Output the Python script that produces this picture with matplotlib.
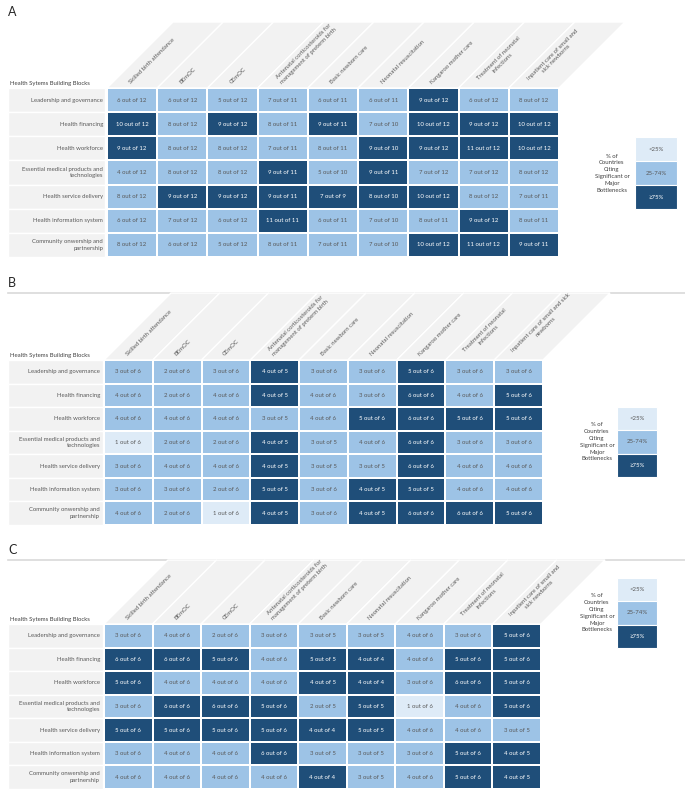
import numpy as np
import matplotlib
matplotlib.use("Agg")
import matplotlib.pyplot as plt
from matplotlib.colors import ListedColormap, BoundaryNorm
from matplotlib.patches import Polygon, Rectangle

plt.rcParams["font.family"] = ["Lato", "DejaVu Sans"]

# ---- data -------------------------------------------------------------
row_labels = [
    "Leadership and governance",
    "Health financing",
    "Health workforce",
    "Essential medical products and\ntechnologies",
    "Health service delivery",
    "Health information system",
    "Community onwership and\npartnership",
]

cols_a = [
    "Skilled birth attendance", "BEmOC", "CEmOC",
    "Antenatal corticosteroids for\nmanagement of preterm birth",
    "Basic newborn care", "Neonatal resuscitation", "Kangaroo mother care",
    "Treatment of neonatal\ninfections", "Inpatient care of small and\nsick newborns",
]
cols_b = cols_a[:8] + ["Inpatient care of small and sick\nnewborns"]
cols_c = cols_a

a_num = [[6, 6, 5, 7, 6, 6, 9, 6, 8],
         [10, 8, 9, 8, 9, 7, 10, 9, 10],
         [9, 8, 8, 7, 8, 9, 9, 11, 10],
         [4, 8, 8, 9, 5, 9, 7, 7, 8],
         [8, 9, 9, 9, 7, 8, 10, 8, 7],
         [6, 7, 6, 11, 6, 7, 8, 9, 8],
         [8, 6, 5, 8, 7, 7, 10, 11, 9]]
a_den = [[12, 12, 12, 11, 11, 11, 12, 12, 12],
         [12, 12, 12, 11, 11, 10, 12, 12, 12],
         [12, 12, 12, 11, 11, 10, 12, 12, 12],
         [12, 12, 12, 11, 10, 11, 12, 12, 12],
         [12, 12, 12, 11, 9, 10, 12, 12, 11],
         [12, 12, 12, 11, 11, 10, 11, 12, 11],
         [12, 12, 12, 11, 11, 10, 12, 12, 11]]

b_num = [[3, 2, 3, 4, 3, 3, 5, 3, 3],
         [4, 2, 4, 4, 4, 3, 6, 4, 5],
         [4, 4, 4, 3, 4, 5, 6, 5, 5],
         [1, 2, 2, 4, 3, 4, 6, 3, 3],
         [3, 4, 4, 4, 3, 3, 6, 4, 4],
         [3, 3, 2, 5, 3, 4, 5, 4, 4],
         [4, 2, 1, 4, 3, 4, 6, 6, 5]]
b_den = [[6, 6, 6, 5, 6, 6, 6, 6, 6],
         [6, 6, 6, 5, 6, 6, 6, 6, 6],
         [6, 6, 6, 5, 6, 6, 6, 6, 6],
         [6, 6, 6, 5, 5, 6, 6, 6, 6],
         [6, 6, 6, 5, 5, 5, 6, 6, 6],
         [6, 6, 6, 5, 6, 5, 5, 6, 6],
         [6, 6, 6, 5, 6, 5, 6, 6, 6]]

c_num = [[3, 4, 2, 3, 3, 3, 4, 3, 5],
         [6, 6, 5, 4, 5, 4, 4, 5, 5],
         [5, 4, 4, 4, 4, 4, 3, 6, 5],
         [3, 6, 6, 5, 2, 5, 1, 4, 5],
         [5, 5, 5, 5, 4, 5, 4, 4, 3],
         [3, 4, 4, 6, 3, 3, 3, 5, 4],
         [4, 4, 4, 4, 4, 3, 4, 5, 4]]
c_den = [[6, 6, 6, 6, 5, 5, 6, 6, 6],
         [6, 6, 6, 6, 5, 4, 6, 6, 6],
         [6, 6, 6, 6, 5, 4, 6, 6, 6],
         [6, 6, 6, 6, 5, 5, 6, 6, 6],
         [6, 6, 6, 6, 4, 5, 6, 6, 5],
         [6, 6, 6, 6, 5, 5, 6, 6, 5],
         [6, 6, 6, 6, 4, 5, 6, 6, 5]]

legend_labels = ["<25%", "25-74%", "\u226575%"]
legend_title = "% of\nCountries\nCiting\nSignificant or\nMajor\nBottlenecks"

# ---- style ------------------------------------------------------------
colors = ["#deebf7", "#9dc3e6", "#1f4e79"]
cmap = ListedColormap(colors)
norm = BoundaryNorm([0, 0.25, 0.75, 1.01], cmap.N)
GRAY_BG = "#f2f2f2"
TXT = "#595959"
FS = 4.3

W, H = 685, 797
fig = plt.figure(figsize=(W / 100, H / 100), dpi=100)
over = fig.add_axes([0, 0, 1, 1])
over.set_xlim(0, W)
over.set_ylim(H, 0)
over.axis("off")

panels = [
    dict(tag="A", num=a_num, den=a_den, cols=cols_a, box=(107, 88, 559, 257),
         htop=22, sep=False, leg=(635, 137, 42, 24), legtx=612),
    dict(tag="B", num=b_num, den=b_den, cols=cols_b, box=(104, 360, 543, 525),
         htop=293, sep=True, leg=(617, 407, 40, 23.3), legtx=597),
    dict(tag="C", num=c_num, den=c_den, cols=cols_c, box=(104, 624, 541, 789),
         htop=560, sep=True, leg=(617, 578, 40, 23.3), legtx=597),
]

for p in panels:
    x0, y0, x1, y1 = p["box"]
    num = np.array(p["num"])
    den = np.array(p["den"])
    frac = num / den
    nr, nc = frac.shape
    cw = (x1 - x0) / nc
    rh = (y1 - y0) / nr

    ax = fig.add_axes([x0 / W, 1 - y1 / H, (x1 - x0) / W, (y1 - y0) / H])
    ax.pcolormesh(np.arange(nc + 1), np.arange(nr + 1), frac, cmap=cmap, norm=norm,
                  edgecolors="white", linewidth=1.3)
    ax.set_xlim(0, nc)
    ax.set_ylim(nr, 0)
    ax.axis("off")

    for i in range(nr):
        for j in range(nc):
            dark = frac[i, j] >= 0.75
            ax.text(j + 0.5, i + 0.5, f"{num[i, j]} out of {den[i, j]}",
                    ha="center", va="center", fontsize=FS,
                    color="white" if dark else TXT)

    # row label band
    lw_units = (x0 - 8) / cw
    for i, lab in enumerate(row_labels):
        ax.add_patch(Rectangle((-lw_units, i), lw_units - 0.03, 1, facecolor=GRAY_BG,
                               edgecolor="white", lw=1.0, clip_on=False))
        ax.text(-4 / cw, i + 0.5, lab, ha="right", va="center", fontsize=FS,
                color=TXT, multialignment="right", linespacing=1.5)
    ax.text(-(x0 - 10) / cw, -5 / rh, "Health Sytems Building Blocks", ha="left",
            va="center", fontsize=FS, color="#404040")

    # slanted header
    hh = y0 - p["htop"]
    sy, sx = hh / rh, hh / cw
    for j, lab in enumerate(p["cols"]):
        ax.add_patch(Polygon([(j, 0), (j + 1, 0), (j + 1 + sx, -sy), (j + sx, -sy)],
                             closed=True, facecolor=GRAY_BG, edgecolor="white",
                             lw=1.0, clip_on=False))
        ax.text(j + 0.5, -3 / rh, lab, rotation=45, rotation_mode="anchor",
                ha="left", va="bottom", fontsize=FS, color=TXT,
                multialignment="center", linespacing=1.3)

    # panel letter and separator
    over.text(8, p["htop"] - 10, p["tag"], fontsize=9, ha="left", va="center",
              color="#262626")
    if p["sep"]:
        over.plot([8, W], [p["htop"], p["htop"]], color="#d9d9d9", lw=1.2)

    # legend
    lx, ly, lwd, lht = p["leg"]
    for k, (c, lab) in enumerate(zip(colors, legend_labels)):
        over.add_patch(Rectangle((lx, ly + k * lht), lwd, lht, facecolor=c,
                                 edgecolor="white", lw=0.8))
        over.text(lx + lwd / 2, ly + (k + 0.5) * lht, lab, ha="center", va="center",
                  fontsize=FS, color="white" if k == 2 else TXT)
    over.text(p["legtx"], ly + 1.5 * lht, legend_title, ha="center", va="center",
              fontsize=FS, color="#404040", linespacing=1.45)

fig.savefig("out.png", dpi=100)
